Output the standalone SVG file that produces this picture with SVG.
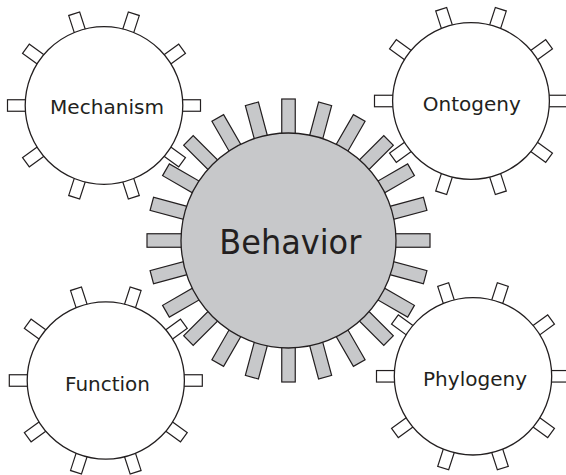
<svg xmlns="http://www.w3.org/2000/svg" xmlns:xlink="http://www.w3.org/1999/xlink" width="566" height="475" viewBox="0 0 566 475">
  <style>
    .ring { fill: #ffffff; stroke: #231f20; stroke-width: 1.3; }
    .tab { fill: #ffffff; stroke: #231f20; stroke-width: 1.2; }
    .hub { fill: #c7c8ca; stroke: #231f20; stroke-width: 1.3; }
    .tooth { fill: #c7c8ca; stroke: #231f20; stroke-width: 1.2; }
    .label { font-family: "DejaVu Sans", "Liberation Sans", Arial, sans-serif; font-size: 20px; fill: #231f20; text-anchor: middle; }
    .big { font-size: 33px; }
  </style>
  <defs>
    <!-- small white tab, pointing up from the origin (outer edge at r = 96.5) -->
    <rect id="tab" class="tab" x="-5.75" y="-96.5" width="11.5" height="26"/>
    <!-- grey gear tooth, pointing up from the origin (outer edge at r = 141.5) -->
    <rect id="tooth" class="tooth" x="-6.75" y="-141.5" width="13.5" height="42"/>
    <!-- ten tabs spaced 36 degrees apart, offset by 18 degrees -->
    <g id="tabs">
      <use xlink:href="#tab" transform="rotate(18)"/>
      <use xlink:href="#tab" transform="rotate(54)"/>
      <use xlink:href="#tab" transform="rotate(90)"/>
      <use xlink:href="#tab" transform="rotate(126)"/>
      <use xlink:href="#tab" transform="rotate(162)"/>
      <use xlink:href="#tab" transform="rotate(198)"/>
      <use xlink:href="#tab" transform="rotate(234)"/>
      <use xlink:href="#tab" transform="rotate(270)"/>
      <use xlink:href="#tab" transform="rotate(306)"/>
      <use xlink:href="#tab" transform="rotate(342)"/>
    </g>
  </defs>

  <!-- central gear: 24 teeth, 15 degrees apart, behind a grey disc -->
  <g id="behavior" transform="translate(288.5,240.5)">
    <use xlink:href="#tooth" transform="rotate(0)"/>
    <use xlink:href="#tooth" transform="rotate(15)"/>
    <use xlink:href="#tooth" transform="rotate(30)"/>
    <use xlink:href="#tooth" transform="rotate(45)"/>
    <use xlink:href="#tooth" transform="rotate(60)"/>
    <use xlink:href="#tooth" transform="rotate(75)"/>
    <use xlink:href="#tooth" transform="rotate(90)"/>
    <use xlink:href="#tooth" transform="rotate(105)"/>
    <use xlink:href="#tooth" transform="rotate(120)"/>
    <use xlink:href="#tooth" transform="rotate(135)"/>
    <use xlink:href="#tooth" transform="rotate(150)"/>
    <use xlink:href="#tooth" transform="rotate(165)"/>
    <use xlink:href="#tooth" transform="rotate(180)"/>
    <use xlink:href="#tooth" transform="rotate(195)"/>
    <use xlink:href="#tooth" transform="rotate(210)"/>
    <use xlink:href="#tooth" transform="rotate(225)"/>
    <use xlink:href="#tooth" transform="rotate(240)"/>
    <use xlink:href="#tooth" transform="rotate(255)"/>
    <use xlink:href="#tooth" transform="rotate(270)"/>
    <use xlink:href="#tooth" transform="rotate(285)"/>
    <use xlink:href="#tooth" transform="rotate(300)"/>
    <use xlink:href="#tooth" transform="rotate(315)"/>
    <use xlink:href="#tooth" transform="rotate(330)"/>
    <use xlink:href="#tooth" transform="rotate(345)"/>
    <circle class="hub" cx="0" cy="0" r="107.5"/>
    <text class="label big" x="1.8" y="13.5" textLength="142" lengthAdjust="spacingAndGlyphs">Behavior</text>
  </g>

  <g id="mechanism" transform="translate(104,105.5)">
    <use xlink:href="#tabs"/>
    <circle class="ring" cx="0" cy="0" r="78.8"/>
    <text class="label" x="3" y="8.8" textLength="114" lengthAdjust="spacingAndGlyphs">Mechanism</text>
  </g>

  <g id="ontogeny" transform="translate(471,101)">
    <use xlink:href="#tabs"/>
    <circle class="ring" cx="0" cy="0" r="78.4"/>
    <text class="label" x="0.8" y="10.3" textLength="98" lengthAdjust="spacingAndGlyphs">Ontogeny</text>
  </g>

  <g id="function" transform="translate(105.8,380.5)">
    <use xlink:href="#tabs"/>
    <circle class="ring" cx="0" cy="0" r="78.6"/>
    <text class="label" x="1.7" y="10.2" textLength="85" lengthAdjust="spacingAndGlyphs">Function</text>
  </g>

  <g id="phylogeny" transform="translate(473,376.3)">
    <use xlink:href="#tabs"/>
    <circle class="ring" cx="0" cy="0" r="78.7"/>
    <text class="label" x="2" y="9.7" textLength="104" lengthAdjust="spacingAndGlyphs">Phylogeny</text>
  </g>
</svg>
